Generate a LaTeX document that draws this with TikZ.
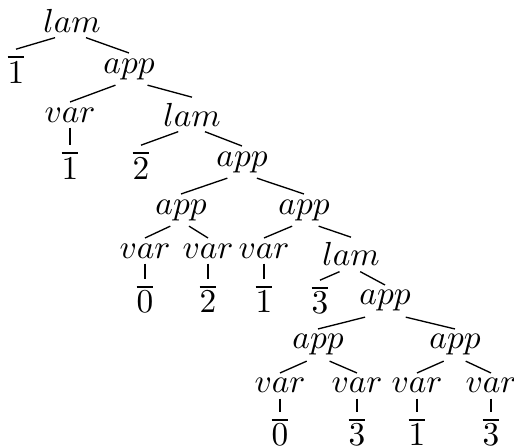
\documentclass[tikz,border=0pt]{standalone}
\usetikzlibrary{calc}
\newcommand\tedge[2]{\draw[edge] let \p1=(#1.south), \p2=($(#2.north)+(0,1.5pt)$),
  \n1={1.5*veclen((\x2)-(\x1),(\y2)-(\y1))/((\y1)-(\y2))} in
  ($(\p1)!\n1!(\p2)$) -- (\p2);}
\begin{document}
\begin{tikzpicture}[x=0.3pt,y=-0.3pt,
  t/.style={inner sep=0pt, anchor=base},
  edge/.style={line width=0.4pt}]
\useasboundingbox (0,0) rectangle (514,448);
% level 1
\node[t] (a) at (72,32) {$lam$};
% level 2
\node[t] (a1) at (16,83) {$\overline{1}$};
\node[t] (a2) at (129,73) {$app$};
% level 3
\node[t] (a21) at (70,122) {$var$};
\node[t] (a22) at (192,126) {$lam$};
% level 4
\node[t] (a211) at (70,179) {$\overline{1}$};
\node[t] (a221) at (141,179) {$\overline{2}$};
\node[t] (a222) at (242,166) {$app$};
% level 5
\node[t] (b1) at (181,214) {$app$};
\node[t] (b2) at (304,214) {$app$};
% level 6
\node[t] (b11) at (145,258) {$var$};
\node[t] (b12) at (208,258) {$var$};
\node[t] (b21) at (264,258) {$var$};
\node[t] (b22) at (351,266) {$lam$};
% level 7
\node[t] (b111) at (145,313) {$\overline{0}$};
\node[t] (b121) at (208,313) {$\overline{2}$};
\node[t] (b211) at (264,313) {$\overline{1}$};
\node[t] (b221) at (320,314) {$\overline{3}$};
\node[t] (b222) at (385,305) {$app$};
% level 8
\node[t] (c1) at (318,349) {$app$};
\node[t] (c2) at (455,349) {$app$};
% level 9
\node[t] (c11) at (280,393) {$var$};
\node[t] (c12) at (357,393) {$var$};
\node[t] (c21) at (417,393) {$var$};
\node[t] (c22) at (491,393) {$var$};
% level 10
\node[t] (c111) at (280,446) {$\overline{0}$};
\node[t] (c121) at (357,446) {$\overline{3}$};
\node[t] (c211) at (417,446) {$\overline{1}$};
\node[t] (c221) at (491,446) {$\overline{3}$};
% edges
\tedge{a}{a1}
\tedge{a}{a2}
\tedge{a2}{a21}
\tedge{a2}{a22}
\tedge{a21}{a211}
\tedge{a22}{a221}
\tedge{a22}{a222}
\tedge{a222}{b1}
\tedge{a222}{b2}
\tedge{b1}{b11}
\tedge{b1}{b12}
\tedge{b2}{b21}
\tedge{b2}{b22}
\tedge{b11}{b111}
\tedge{b12}{b121}
\tedge{b21}{b211}
\tedge{b22}{b221}
\tedge{b22}{b222}
\tedge{b222}{c1}
\tedge{b222}{c2}
\tedge{c1}{c11}
\tedge{c1}{c12}
\tedge{c2}{c21}
\tedge{c2}{c22}
\tedge{c11}{c111}
\tedge{c12}{c121}
\tedge{c21}{c211}
\tedge{c22}{c221}
\end{tikzpicture}
\end{document}
